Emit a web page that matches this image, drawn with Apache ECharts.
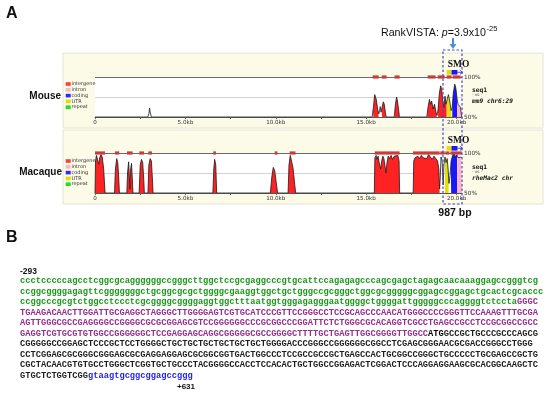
<!DOCTYPE html>
<html><head><meta charset="utf-8">
<script src="https://cdn.jsdelivr.net/npm/echarts/dist/echarts.min.js"></script>
<style>html,body{margin:0;padding:0;background:#fff}#c{width:550px;height:395px}</style>
</head><body><div id="c"></div>
<script>
// ---------- DATA ----------
const xTickLabels = ['0', '5.0kb', '10.0kb', '15.0kb', '20.0kb'];
const legendNames = ['intergene', 'intron', 'coding', 'UTR', 'repeat'];

const mouseKb  = [0, 2.92, 2.98, 3.02, 3.06, 3.12, 15.33, 15.4, 15.47, 15.5, 15.56, 15.63, 15.7, 15.74, 15.78, 15.82, 15.88, 15.95, 16.0, 16.06, 16.1, 16.55, 16.62, 16.68, 16.73, 16.8, 16.84, 18.35, 18.42, 18.5, 18.56, 18.62, 18.7, 18.78, 18.86, 18.92, 18.98, 19.05, 19.12, 19.18, 19.24, 19.3, 19.36, 19.42, 19.48, 19.55, 19.62, 19.7, 19.76, 19.82, 19.9, 19.96, 20.02, 20.08, 20.15, 20.22, 20.28];
const mousePct = [50, 50, 54, 61, 55, 50, 50, 62, 78, 80, 72, 60, 54, 58, 63, 56, 62, 69, 66, 56, 50, 50, 66, 75, 70, 58, 50, 50, 62, 72, 66, 70, 60, 66, 56, 52, 60, 80, 89, 84, 70, 62, 76, 66, 72, 78, 70, 58, 62, 80, 91, 86, 74, 66, 67, 62, 50];
const mouseRegions = [[15.37, 15.68, 'intergene'], [15.85, 16.08, 'intergene'], [16.58, 16.82, 'intergene'], [18.38, 18.9, 'intergene'], [18.97, 19.45, 'intergene'], [19.45, 19.72, 'UTR'], [19.76, 20.03, 'coding'], [20.03, 20.26, 'intron']];
const mouseConserved = [[15.36, 15.69], [15.86, 16.13], [16.57, 16.85], [18.4, 18.84], [18.95, 19.34], [19.45, 19.72], [19.78, 20.22]];

const macaqueKb  = [0, 0.03, 0.08, 0.14, 0.2, 0.26, 0.33, 0.4, 0.48, 0.53, 0.56, 1.08, 1.13, 1.2, 1.26, 1.31, 1.35, 1.76, 1.8, 1.86, 1.9, 1.93, 1.96, 2.02, 2.07, 2.1, 2.44, 2.5, 2.57, 2.64, 2.7, 2.73, 2.93, 2.98, 3.05, 3.12, 3.18, 3.21, 6.52, 6.57, 6.62, 6.68, 6.73, 9.7, 9.78, 9.86, 9.94, 10.02, 10.1, 10.68, 10.73, 10.8, 10.88, 10.95, 11.05, 11.1, 15.45, 15.48, 15.55, 15.6, 15.66, 15.72, 15.8, 15.86, 15.92, 15.98, 16.04, 16.1, 16.15, 16.22, 16.3, 16.38, 16.46, 16.55, 16.65, 16.75, 16.82, 16.85, 17.6, 17.63, 17.7, 17.78, 17.86, 17.95, 18.05, 18.15, 18.25, 18.35, 18.45, 18.55, 18.65, 18.75, 18.85, 18.95, 19.02, 19.06, 19.1, 19.14, 19.2, 19.26, 19.3, 19.36, 19.42, 19.48, 19.53, 19.58, 19.64, 19.7, 19.78, 19.86, 19.94, 20.02, 20.08, 20.16, 20.24, 20.3];
const macaquePct = [50, 90, 97, 92, 86, 94, 98, 95, 80, 60, 50, 50, 80, 93, 88, 70, 50, 50, 75, 89, 70, 55, 78, 87, 65, 50, 50, 85, 92, 88, 65, 50, 50, 85, 93, 90, 66, 50, 50, 80, 92, 85, 50, 50, 70, 82, 78, 64, 50, 50, 85, 97, 95, 82, 60, 50, 50, 94, 97, 92, 96, 88, 80, 90, 96, 93, 84, 75, 88, 96, 93, 97, 92, 96, 94, 97, 90, 50, 50, 90, 94, 92, 96, 93, 97, 94, 96, 93, 98, 95, 92, 96, 93, 90, 80, 55, 70, 95, 90, 60, 85, 95, 88, 93, 80, 62, 72, 90, 97, 100, 95, 98, 94, 96, 95, 94];
const macaqueRegions = [[0, 0.56, 'intergene'], [1.08, 1.35, 'intergene'], [1.76, 2.1, 'intergene'], [2.44, 2.73, 'intergene'], [2.93, 3.21, 'intergene'], [6.52, 6.73, 'intergene'], [9.7, 10.1, 'intergene'], [10.68, 11.1, 'intergene'], [15.45, 16.85, 'intergene'], [17.6, 19.06, 'intergene'], [19.36, 19.56, 'UTR'], [19.68, 20.04, 'coding'], [20.04, 20.3, 'intron']];
const macaqueConserved = [[0, 0.55], [1.1, 1.34], [1.77, 2.08], [2.45, 2.71], [2.95, 3.15], [6.54, 6.69], [9.94, 10.09], [10.77, 11.09], [15.47, 16.85], [17.59, 19.06], [19.1, 19.34], [19.38, 19.6], [19.66, 20.28]];

const geneName = 'SMO';
const geneParts = [[19.45, 19.72, 'UTR'], [19.72, 20.05, 'coding']];
const geneArrowEnd = 20.33;

const seqStart = '-293';
const seqEnd = '+631';
const seqRows = [
  [['g', 'ccctcccccagcctcggcgcaggggggccgggcttggctccgcgaggcccgtgcattccagagagcccagcgagctagagcaacaaaggagccgggtcg']],
  [['g', 'ccggcggggagagttcgggggggctgcggcgcgctggggcgaaggtggctgctgggccgcgggctggcgcgggggcggagccggagctgcactcgcaccc']],
  [['g', 'ccggcccgcgtctggcctccctcgcggggcggggaggtggctttaatggtgggagagggaatggggctggggattgggggcccaggggtctccta'], ['p', 'GGGC']],
  [['p', 'TGAAGACAACTTGGATTGCGAGGCTAGGGCTTGGGGAGTCGTGCATCCCGTTCCGGGCCTCCGCAGCCCAACATGGGCCCCGGGTTCCAAAGTTTGCGA']],
  [['p', 'AGTTGGGCGCCGAGGGGCCGGGGCGCGCGGAGCGTCCGGGGGGCCCGCGGCCCGGATTCTCTGGGCGCACAGGTCGCCTGAGCCGCCTCCGCGGCCGCC']],
  [['p', 'GAGGTCGTGCGTGTGGCCGGGGGGCTCCGAGGAGCAGGCGGGGGCGCCGGGGCTTTTGCTGAGTTGGCGGGGTTGGCC'], ['a', 'ATG'], ['k', 'GCCGCTGCCCGCCCAGCG']],
  [['k', 'CGGGGGCCGGAGCTCCCGCTCCTGGGGCTGCTGCTGCTGCTGCTGCTGGGGACCCGGGCCGGGGGGCGGCCTCGAGCGGGAACGCGACCGGGCCTGGG']],
  [['k', 'CCTCGGAGCGCGGGCGGGAGCGCGAGGAGGAGCGCGGCGGTGACTGGCCCTCCGCCGCCGCTGAGCCACTGCGGCCGGGCTGCCCCCTGCGAGCCGCTG']],
  [['k', 'CGCTACAACGTGTGCCTGGGCTCGGTGCTGCCCTACGGGGCCACCTCCACACTGCTGGCCGGAGACTCGGACTCCCAGGAGGAAGCGCACGGCAAGCTC']],
  [['k', 'GTGCTCTGGTCGG'], ['b', 'gtaagtgcggcggagccggg']]
];

// ---------- STYLE ----------
const typeColor = { intergene: '#ff2222', intron: '#ffb3c4', coding: '#1818ff', UTR: '#e6e000', repeat: '#22cc22' };
const legendColor = { intergene: '#ff3b3b', intron: '#ffb6c1', coding: '#2a2aff', UTR: '#e0e000', repeat: '#22dd22' };
const seqColor = { g: '#1b991b', p: '#962f8e', k: '#1e1e1e', a: '#000000', b: '#2424f0' };

const mctx = document.createElement('canvas').getContext('2d');
function measure(text, font) { mctx.font = font; return mctx.measureText(text).width; }
// fit monospace sequence so 100 characters span 524 px
const seqFontSize = 10 * 524 / measure('M'.repeat(100), 'bold 10px "Liberation Mono"');
// fit annotation title to its width in the reference
const rvFont = 10 * 105 / measure('RankVISTA: p=3.9x10', '10px "Liberation Sans"');

function interp(kb, pct, x) {
  for (let i = 0; i < kb.length - 1; i++) {
    if (x >= kb[i] && x <= kb[i + 1]) {
      const t = (x - kb[i]) / (kb[i + 1] - kb[i] || 1);
      return pct[i] + t * (pct[i + 1] - pct[i]);
    }
  }
  return pct[pct.length - 1];
}
function buildFill(kb, pct, regions, type) {
  const out = [];
  regions.filter(r => r[2] === type).forEach(r => {
    out.push([r[0], interp(kb, pct, r[0])]);
    kb.forEach((x, i) => { if (x > r[0] && x < r[1]) out.push([x, pct[i]]); });
    out.push([r[1], interp(kb, pct, r[1])]);
    out.push([r[1], null]);
  });
  return out;
}

const grids = [
  { left: 95, top: 77, width: 367, height: 40 },
  { left: 95, top: 153, width: 367, height: 40 }
];

function xAxisFor(i) {
  return {
    gridIndex: i, type: 'value', min: 0, max: 20.3, interval: 2.5,
    axisLine: { lineStyle: { color: '#555', width: 1 } },
    axisTick: { length: 2, lineStyle: { color: '#666' } },
    splitLine: { show: false },
    axisLabel: {
      margin: 3, fontSize: 5.6, fontFamily: 'DejaVu Sans', color: '#333', showMaxLabel: false,
      formatter: v => (Math.abs(v / 5 - Math.round(v / 5)) < 1e-6 ? (xTickLabels[Math.round(v / 5)] || '') : '')
    }
  };
}
function yAxisFor(i) {
  return {
    gridIndex: i, type: 'value', min: 50, max: 100, interval: 25, position: 'right',
    axisLine: { show: false }, axisTick: { show: false },
    splitLine: { lineStyle: { color: ['#666', '#d2d2d2', '#6a6a6a'], width: 1 } },
    axisLabel: { margin: 2, fontSize: 5.8, fontFamily: 'DejaVu Sans', color: '#333', formatter: v => (v === 75 ? '' : v + '%') }
  };
}

const series = [];
function addPanel(i, kb, pct, regions, conserved) {
  ['intergene', 'UTR', 'coding', 'intron'].forEach(t => {
    series.push({
      type: 'line', name: t, xAxisIndex: i, yAxisIndex: i, data: buildFill(kb, pct, regions, t),
      showSymbol: false, connectNulls: false, silent: true, z: 2,
      lineStyle: { width: 0 }, areaStyle: { color: typeColor[t], opacity: 1, origin: 'start' }
    });
  });
  series.push({
    type: 'line', name: 'curve' + i, xAxisIndex: i, yAxisIndex: i,
    data: kb.map((x, k) => [x, pct[k]]), showSymbol: false, silent: true, z: 3,
    lineStyle: { width: 0.8, color: '#1a1a1a' }
  });
  series.push({
    type: 'custom', xAxisIndex: i, yAxisIndex: i, data: conserved, silent: true, z: 4,
    encode: { x: [0, 1] },
    renderItem: (p, api) => {
      const a = api.coord([api.value(0), 100]);
      const b = api.coord([api.value(1), 100]);
      return { type: 'rect', shape: { x: a[0], y: a[1] - 1.6, width: Math.max(1, b[0] - a[0]), height: 3.2 }, style: { fill: '#cc3a3a' } };
    }
  });
  series.push({
    type: 'custom', xAxisIndex: i, yAxisIndex: i, data: geneParts, silent: true, z: 5,
    encode: { x: [0, 1] },
    renderItem: (p, api) => {
      const part = geneParts[p.dataIndex];
      const a = api.coord([part[0], 100]);
      const b = api.coord([part[1], 100]);
      const children = [{ type: 'rect', shape: { x: a[0], y: a[1] - 7, width: b[0] - a[0], height: 4.6 }, style: { fill: typeColor[part[2]] } }];
      if (p.dataIndex === 0) {
        children.push({ type: 'text', style: { text: geneName, x: a[0] + 1, y: a[1] - 12, fontSize: 9.5, fontWeight: 'bold', fontFamily: 'Liberation Serif', fill: '#111', align: 'left', verticalAlign: 'middle' } });
      }
      if (p.dataIndex === geneParts.length - 1) {
        const e = api.coord([geneArrowEnd, 100]);
        const yy = a[1] - 4.7;
        children.push({ type: 'line', shape: { x1: b[0], y1: yy, x2: e[0], y2: yy }, style: { stroke: '#1818ff', lineWidth: 0.8 } });
        children.push({ type: 'polyline', shape: { points: [[e[0] - 2.5, yy - 2], [e[0], yy], [e[0] - 2.5, yy + 2]] }, style: { stroke: '#1818ff', lineWidth: 0.8, fill: null } });
      }
      return { type: 'group', children };
    }
  });
}
addPanel(0, mouseKb, mousePct, mouseRegions, mouseConserved);
addPanel(1, macaqueKb, macaquePct, macaqueRegions, macaqueConserved);

// ---------- GRAPHICS (panels, labels, text) ----------
const graphics = [];
graphics.push({ type: 'rect', z: -10, shape: { x: 63, y: 53, width: 480, height: 75 }, style: { fill: '#fbfbe8', stroke: '#e4e4d2', lineWidth: 1 } });
graphics.push({ type: 'rect', z: -10, shape: { x: 63, y: 130, width: 480, height: 74 }, style: { fill: '#fbfbe8', stroke: '#e4e4d2', lineWidth: 1 } });

function txt(text, x, y, size, opts) {
  graphics.push({ type: 'text', z: 50, style: Object.assign({ text, x, y, fontSize: size, fontFamily: 'Liberation Sans', fill: '#111', align: 'left', verticalAlign: 'middle' }, opts || {}) });
}
txt('A', 6, 13.5, 16, { fontWeight: 'bold' });
txt('B', 6, 238, 16, { fontWeight: 'bold' });
txt('Mouse', 61, 96, 10, { fontWeight: 'bold', align: 'right' });
txt('Macaque', 62, 172, 10, { fontWeight: 'bold', align: 'right' });
txt('987 bp', 455, 213, 10.5, { fontWeight: 'bold', align: 'center' });

// legends
[84, 161].forEach(y0 => {
  legendNames.forEach((n, k) => {
    const y = y0 + k * 5.8;
    graphics.push({ type: 'rect', z: 50, shape: { x: 65.7, y: y - 1.8, width: 5, height: 3.6 }, style: { fill: legendColor[n] } });
    txt(n, 71.5, y, 5, { fontFamily: 'DejaVu Sans', fill: '#333' });
  });
});

// seq labels on the right
[[90, 'mm9 chr6:29'], [167, 'rheMac2 chr']].forEach(([y, s]) => {
  txt('seq1', 472, y, 6.3, { fontFamily: 'DejaVu Sans Mono', fontWeight: 'bold' });
  txt('- vs -', 472, y + 4.6, 4.2, { fontFamily: 'DejaVu Sans', fill: '#444' });
  txt(s, 472, y + 11, 6.2, { fontFamily: 'DejaVu Sans Mono', fontWeight: 'bold', fontStyle: 'italic' });
});

// RankVISTA annotation
graphics.push({
  type: 'text', z: 50, style: {
    text: '{n|RankVISTA: }{i|p}{n|=3.9x10}', x: 381, y: 33, align: 'left', verticalAlign: 'middle',
    rich: {
      n: { fontSize: rvFont, fontFamily: 'Liberation Sans', fill: '#111', color: '#111' },
      i: { fontSize: rvFont, fontFamily: 'Liberation Sans', fontStyle: 'italic', fill: '#111', color: '#111' }
    }
  }
});
txt('-25', 486.5, 28.5, 7.5, {});
graphics.push({ type: 'line', z: 50, shape: { x1: 453, y1: 38, x2: 453, y2: 45 }, style: { stroke: '#4a8fd0', lineWidth: 2 } });
graphics.push({ type: 'polygon', z: 50, shape: { points: [[449.5, 44], [456.5, 44], [453, 49]] }, style: { fill: '#4a8fd0' } });
// highlight box
graphics.push({ type: 'rect', z: 60, shape: { x: 443, y: 50, width: 19, height: 154 }, style: { fill: null, stroke: '#4a48c8', lineWidth: 1.2, lineDash: [2.5, 2] } });

// sequence (panel B)
txt(seqStart, 20, 271.5, 8.5, { fontWeight: 'bold' });
const rich = {};
Object.keys(seqColor).forEach(k => {
  rich[k] = { fontSize: seqFontSize, fontFamily: 'Liberation Mono', fontWeight: 'bold', fill: seqColor[k], color: seqColor[k] };
});
seqRows.forEach((row, r) => {
  graphics.push({
    type: 'text', z: 50, style: {
      text: row.map(([k, s]) => '{' + k + '|' + s + '}').join(''),
      x: 20, y: 281 + r * 10.5, align: 'left', verticalAlign: 'middle', rich
    }
  });
});
txt(seqEnd, 177, 387, 8, { fontWeight: 'bold' });

const chart = echarts.init(document.getElementById('c'), null, { renderer: 'canvas' });
chart.setOption({
  animation: false,
  backgroundColor: '#ffffff',
  grid: grids.map(g => Object.assign({ show: true, backgroundColor: '#ffffff', borderWidth: 0 }, g)),
  xAxis: [xAxisFor(0), xAxisFor(1)],
  yAxis: [yAxisFor(0), yAxisFor(1)],
  series,
  graphic: { elements: graphics }
});
</script>
</body></html>
